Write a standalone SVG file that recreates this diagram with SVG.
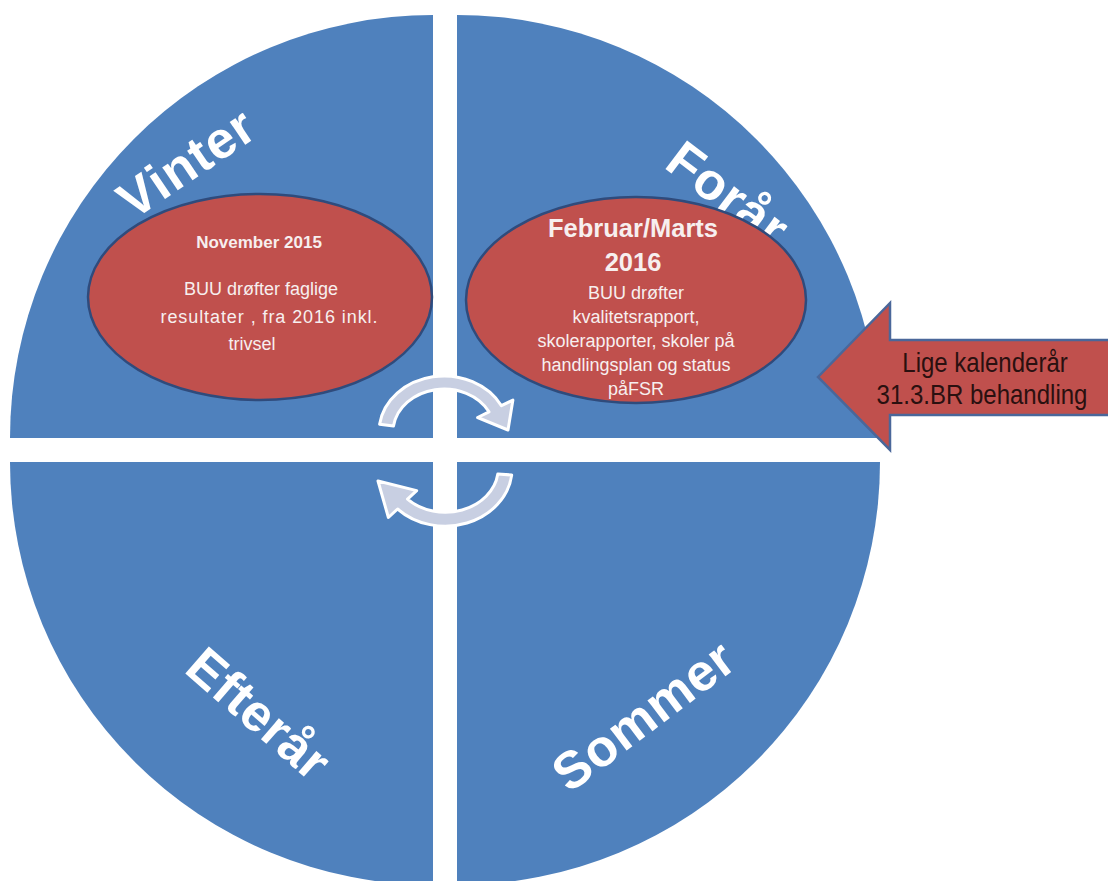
<svg xmlns="http://www.w3.org/2000/svg" width="1108" height="881" viewBox="0 0 1108 881">
<style>
.q{fill:#4f81bd}
.ttl{font-family:"Liberation Sans",Arial,sans-serif;font-weight:bold;font-size:52px;fill:#ffffff;text-anchor:middle}
.ell{fill:#c0504d;stroke:#2f4b7c;stroke-width:2.5}
.et{font-family:"Liberation Sans",Arial,sans-serif;fill:#f7efef;text-anchor:middle}
.b{font-weight:bold}
.cyc{fill:#c8cfe2;stroke:#ffffff;stroke-width:3;stroke-linejoin:round}
.arr{fill:#c0504d;stroke:#4a679a;stroke-width:2.5}
.at{font-family:"Liberation Sans",Arial,sans-serif;font-size:24px;fill:#2a1010;text-anchor:middle}
</style>
<rect width="1108" height="881" fill="#ffffff"/>
<g id="vinter">
<path class="q" d="M433,438 L10,438 A423,423 0 0 1 433,15 Z"/>
<text class="ttl" transform="translate(196,178) rotate(-34)" textLength="152">Vinter</text>
</g>
<g id="foraar">
<path class="q" d="M457,438 L457,15 A423,423 0 0 1 880,438 Z"/>
<text class="ttl" transform="translate(717,208) rotate(37)" textLength="136">Forår</text>
</g>
<g id="efteraar">
<path class="q" d="M433,462 L433,885 A423,423 0 0 1 10,462 Z"/>
<text class="ttl" transform="translate(247,727) rotate(41)" textLength="170">Efterår</text>
</g>
<g id="sommer">
<path class="q" d="M457,462 L880,462 A423,423 0 0 1 457,885 Z"/>
<text class="ttl" font-size="54" transform="translate(654,730) rotate(-37)" textLength="212">Sommer</text>
</g>
<g id="november">
<ellipse class="ell" cx="260" cy="297" rx="172" ry="103"/>
<text class="et b" x="259" y="248" font-size="17">November 2015</text>
<text class="et" x="261" y="295" font-size="18">BUU drøfter faglige</text>
<text class="et" x="269" y="323" font-size="18" textLength="217">resultater , fra 2016 inkl.</text>
<text class="et" x="252" y="350" font-size="18">trivsel</text>
</g>
<g id="februar">
<ellipse class="ell" cx="636" cy="300" rx="170" ry="103"/>
<text class="et b" x="633" y="237" font-size="25.5">Februar/Marts</text>
<text class="et b" x="633" y="271" font-size="25.5">2016</text>
<text class="et" x="636" y="299" font-size="18">BUU drøfter</text>
<text class="et" x="636" y="323" font-size="18">kvalitetsrapport,</text>
<text class="et" x="636" y="347" font-size="18">skolerapporter, skoler på</text>
<text class="et" x="636" y="371" font-size="18">handlingsplan og status</text>
<text class="et" x="636" y="395" font-size="18">påFSR</text>
</g>
<g id="connectors">
<path class="cyc" d="M379.6,424.2 A65,56 0 0 1 501.4,405.7 L512.9,400.1 L508,430 L477.6,417.5 L489,411.8 A51,43 0 0 0 393.5,426 Z"/>
<path class="cyc" d="M511.7,475 A67,58 0 0 1 397.6,509 L388.4,517.5 L378,481 L416.7,490.6 L407.5,499.1 A53,44 0 0 0 497.8,474 Z"/>
</g>
<g id="lige">
<path class="arr" d="M818,377 L890,303 L890,340 L1112,340 L1112,415 L890,415 L890,450 Z"/>
<text class="at" transform="translate(985,372) scale(1,1.15)">Lige kalenderår</text>
<text class="at" transform="translate(982,404) scale(1,1.15)">31.3.BR behandling</text>
</g>
</svg>
